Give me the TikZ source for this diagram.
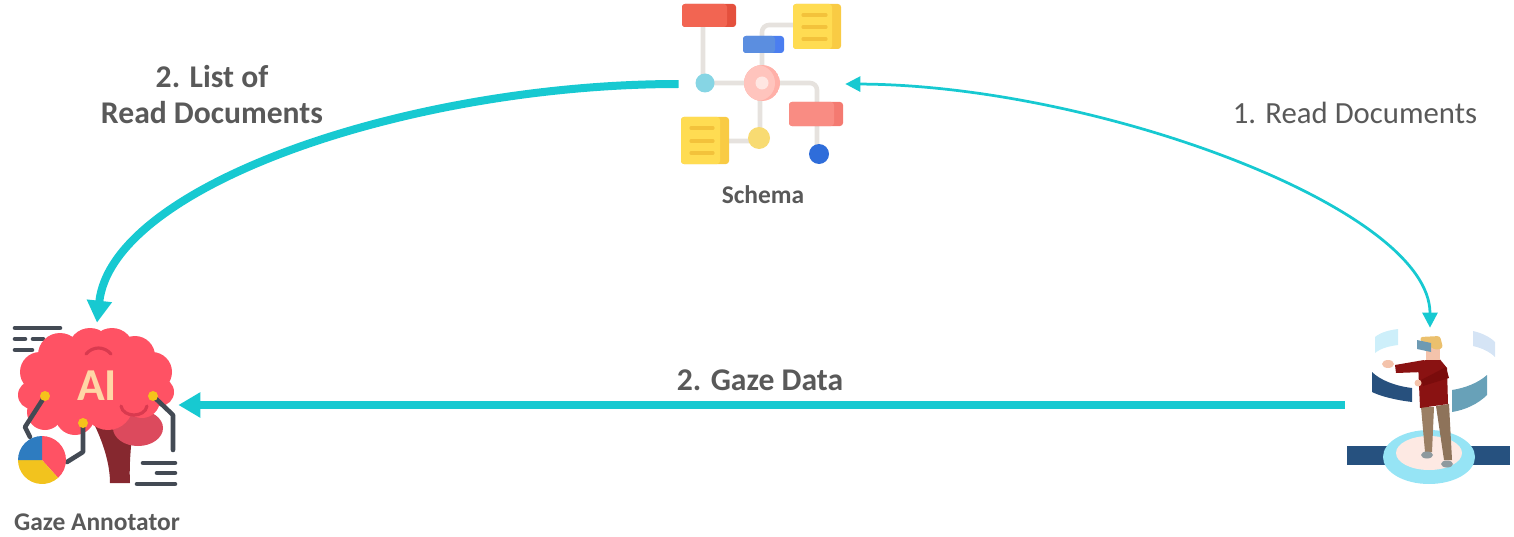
\documentclass[tikz,border=0pt]{standalone}
\usepackage{fontspec}
\setmainfont{Carlito}
\usetikzlibrary{arrows.meta}

\definecolor{flowcyan}{HTML}{17C9D1}
\definecolor{labelgray}{HTML}{595959}
\definecolor{wiregray}{HTML}{E6E2DE}
\definecolor{schemared}{HTML}{F26552}
\definecolor{schemareddk}{HTML}{E4503D}
\definecolor{docyellow}{HTML}{FFDC52}
\definecolor{docyellowdk}{HTML}{F9CB44}
\definecolor{docline}{HTML}{F3C23B}
\definecolor{schemablue}{HTML}{5B8EE0}
\definecolor{schemabluedk}{HTML}{4B7EF0}
\definecolor{schemapink}{HTML}{F98C83}
\definecolor{schemapinkdk}{HTML}{F47A71}
\definecolor{cyandot}{HTML}{86D5E4}
\definecolor{pinklt}{HTML}{FFC4BD}
\definecolor{pinkdk}{HTML}{FFB0A8}
\definecolor{pinkcore}{HTML}{FFE6E2}
\definecolor{yellowdot}{HTML}{F8DB72}
\definecolor{bluedot}{HTML}{2F6DDA}
\definecolor{brain}{HTML}{FF5264}
\definecolor{brainline}{HTML}{D93A4F}
\definecolor{cerebellum}{HTML}{DC4A5D}
\definecolor{stem}{HTML}{86282F}
\definecolor{aipeach}{HTML}{FFD6A6}
\definecolor{slate}{HTML}{434A54}
\definecolor{dotyellow}{HTML}{F5C21B}
\definecolor{pieyellow}{HTML}{F2C31E}
\definecolor{pieblue}{HTML}{2E7CC0}
\definecolor{barblue}{HTML}{26517F}
\definecolor{ringcyan}{HTML}{96E4F5}
\definecolor{floorpink}{HTML}{FDE9E3}
\definecolor{bandlt}{HTML}{CDEFFA}
\definecolor{bandpale}{HTML}{D5E4F5}
\definecolor{banddark}{HTML}{27507D}
\definecolor{bandsteel}{HTML}{68A1B8}
\definecolor{shirt}{HTML}{8A1212}
\definecolor{shirtdk}{HTML}{7A0C0C}
\definecolor{trouser}{HTML}{9B7F64}
\definecolor{trouserdk}{HTML}{8E735A}
\definecolor{shoe}{HTML}{8E999E}
\definecolor{skin}{HTML}{F4C3AB}
\definecolor{hair}{HTML}{EBC06D}
\definecolor{goggle}{HTML}{6D9AB3}

\begin{document}
\begin{tikzpicture}[x=0.02cm, y=-0.02cm,
    caption/.style={font=\fontsize{18}{20.5}\selectfont\bfseries, text=labelgray, align=center},
    tag/.style={font=\fontsize{14.5}{16}\selectfont\bfseries, text=labelgray},
    icon/.style={inner sep=0pt},
    flow/.style={-{Triangle[length=0.44cm, width=0.48cm]}, line width=0.16cm, flowcyan},
    link/.style={{Triangle[length=0.3cm, width=0.3cm]}-{Triangle[length=0.3cm, width=0.3cm]}, line width=0.055cm, flowcyan},
    wire/.style={line width=2.6pt, line cap=round, line join=round}
]
\useasboundingbox (0,0) rectangle (1514,537);

% Schema icon
\draw[wire, wiregray, rounded corners=4pt] (703,27) -- (703,83) -- (817,83) -- (817,154);
\draw[wire, wiregray, rounded corners=4pt] (762,83) -- (762,25) -- (793,25);
\draw[wire, wiregray, rounded corners=4pt] (760,83) -- (760,141) -- (728,141);
\foreach \xa/\ya/\xb/\yb/\lt/\dk in {682/4/736/27/schemared/schemareddk,
    793/4/841/49/docyellow/docyellowdk, 743/36/784/53/schemablue/schemabluedk,
    789/102/843/126/schemapink/schemapinkdk, 681/117/729/164/docyellow/docyellowdk}
{
  \fill[\dk, rounded corners=1.7pt] (\xa,\ya) rectangle (\xb,\yb);
  \fill[\lt, rounded corners=1.7pt] (\xa,\ya) rectangle ({\xb-9},\yb);
}
\foreach \y in {15,27,39}
  \draw[line width=1.8pt, line cap=round, docline] (803,\y) -- (826,\y);
\foreach \y in {128,141,153}
  \draw[line width=1.8pt, line cap=round, docline] (691,\y) -- (713,\y);
\fill[cyandot] (705,83) circle[radius=9.5];
\begin{scope}
  \clip (762,83) circle[radius=18];
  \fill[pinkdk] (762,83) circle[radius=18];
  \fill[pinklt] (757,83) circle[radius=18];
\end{scope}
\fill[pinkcore] (762,83) circle[radius=6.5];
\fill[yellowdot] (759,138) circle[radius=11];
\fill[bluedot] (819,154) circle[radius=10];
\node[icon, minimum width=3.32cm, minimum height=3.36cm] (schema) at (762,84) {};
\node[tag] (schemalbl) at (763,195) {Schema};

% Gaze annotator icon
\draw[wire, slate] (15,328) -- (60,328);
\draw[wire, slate] (15,339) -- (25,339);
\draw[wire, slate] (33,339) -- (43,339);
\draw[wire, slate] (15,350) -- (32,350);
\fill[stem] (95,426) .. controls (104,445) and (110,465) .. (110,483) -- (130,483)
  .. controls (129,465) and (131,445) .. (133,426) -- cycle;
\fill[cerebellum] (138,428) ellipse[x radius=25, y radius=18];
\foreach \x/\y/\r in {60/355/22, 90/350/22, 112/350/22, 135/356/20, 152/372/20,
    160/392/14, 40/372/20, 32/395/14, 45/412/18, 75/415/20, 108/405/25, 142/400/18}
  \fill[brain] (\x,\y) circle[radius=\r];
\fill[brain] (95,385) ellipse[x radius=55, y radius=35];
\draw[brainline, line width=1.8pt, line cap=round] (86,354) .. controls (93,346) and (104,346) .. (111,354);
\draw[brainline, line width=1.8pt, line cap=round] (121,406) .. controls (123,418) and (145,418) .. (147,406);
\node[font=\fontsize{26}{26}\selectfont\bfseries, text=aipeach] (aitext) at (97,386) {AI};
\draw[wire, slate] (45,396) -- (25,427) -- (30,437);
\draw[wire, slate] (83,423) -- (83,452) -- (67,462);
\draw[wire, slate] (153,396) -- (173,415) -- (173,450);
\fill[brain] (42,460) -- ++(-90:24) arc[start angle=-90, end angle=48, radius=24] -- cycle;
\fill[pieyellow] (42,460) -- ++(48:24) arc[start angle=48, end angle=180, radius=24] -- cycle;
\fill[pieblue] (42,460) -- ++(180:24) arc[start angle=180, end angle=270, radius=24] -- cycle;
\foreach \x/\y in {45/396, 83/423, 153/396}
  \fill[dotyellow] (\x,\y) circle[radius=5];
\draw[wire, slate] (143,463) -- (175,463);
\draw[wire, slate] (157,473) -- (175,473);
\draw[wire, slate] (137,484) -- (175,484);
\node[icon, minimum width=3.24cm, minimum height=3.28cm] (annotator) at (97,405) {};
\node[tag] (annotatorlbl) at (97,522) {Gaze Annotator};

% VR user icon
\fill[barblue] (1347,446) rectangle (1510,465);
\fill[ringcyan] (1429,457) ellipse[x radius=46, y radius=27];
\fill[floorpink] (1429,453) ellipse[x radius=33, y radius=17];
\fill[bandlt] (1375,337) .. controls (1381,332) and (1390,330) .. (1398,329) -- (1398,345)
  .. controls (1390,346) and (1381,348) .. (1375,353) -- cycle;
\fill[bandpale] (1473,331) .. controls (1482,333) and (1490,337) .. (1495,342) -- (1495,357)
  .. controls (1490,352) and (1482,348) .. (1473,346) -- cycle;
\fill[banddark] (1372,372) .. controls (1380,380) and (1395,386) .. (1412,388) -- (1412,402)
  .. controls (1395,400) and (1380,396) .. (1372,392) -- cycle;
\fill[bandsteel] (1452,390) .. controls (1465,388) and (1478,383) .. (1487,375) -- (1487,395)
  .. controls (1478,404) and (1465,410) .. (1452,412) -- cycle;
\fill[trouser] (1421,407) -- (1434,407) -- (1432,452) -- (1425,452) -- cycle;
\fill[trouserdk] (1436,406) -- (1449,404) -- (1452,460) -- (1444,460) -- cycle;
\fill[shoe] (1427,455) ellipse[x radius=6, y radius=3.5];
\fill[shoe] (1447,464) ellipse[x radius=6, y radius=3.5];
\fill[shirt] (1418,362) -- (1438,357) -- (1447,368) -- (1448,404) -- (1420,408) -- cycle;
\fill[shirt] (1424,360) -- (1395,365) -- (1396,373) -- (1424,372) -- cycle;
\fill[skin] (1388,364) ellipse[x radius=6, y radius=4];
\fill[shirtdk] (1446,367) -- (1449,378) -- (1423,386) -- (1421,380) -- cycle;
\fill[skin] (1418,383) circle[radius=3.5];
\fill[skin] (1426,343) rectangle (1440,360);
\fill[hair, rounded corners=1.5pt] (1420,337) -- (1440,336) -- (1443,348) -- (1436,350) -- (1421,342) -- cycle;
\fill[goggle] (1417,340) -- (1431,343) -- (1431,352) -- (1417,349) -- cycle;
\node[icon, minimum width=3.4cm, minimum height=3.08cm] (user) at (1430,405) {};

% Labels
\node[caption] (listlbl) at (212,95) {2. List of\\Read Documents};
\node[caption] (gazelbl) at (760,380) {2. Gaze Data};
\node[caption, font=\fontsize{17.5}{20}\selectfont] (readlbl) at (1355,113) {1. Read Documents};

% Arrows
\draw[flow] (schema.west) .. controls (410,84) and (112,185) .. (annotator.north);
\draw[link] (schema.east) .. controls (1095,85) and (1430,208) .. (user.north);
\draw[flow] (user.west) -- (annotator.east);
\end{tikzpicture}
\end{document}
